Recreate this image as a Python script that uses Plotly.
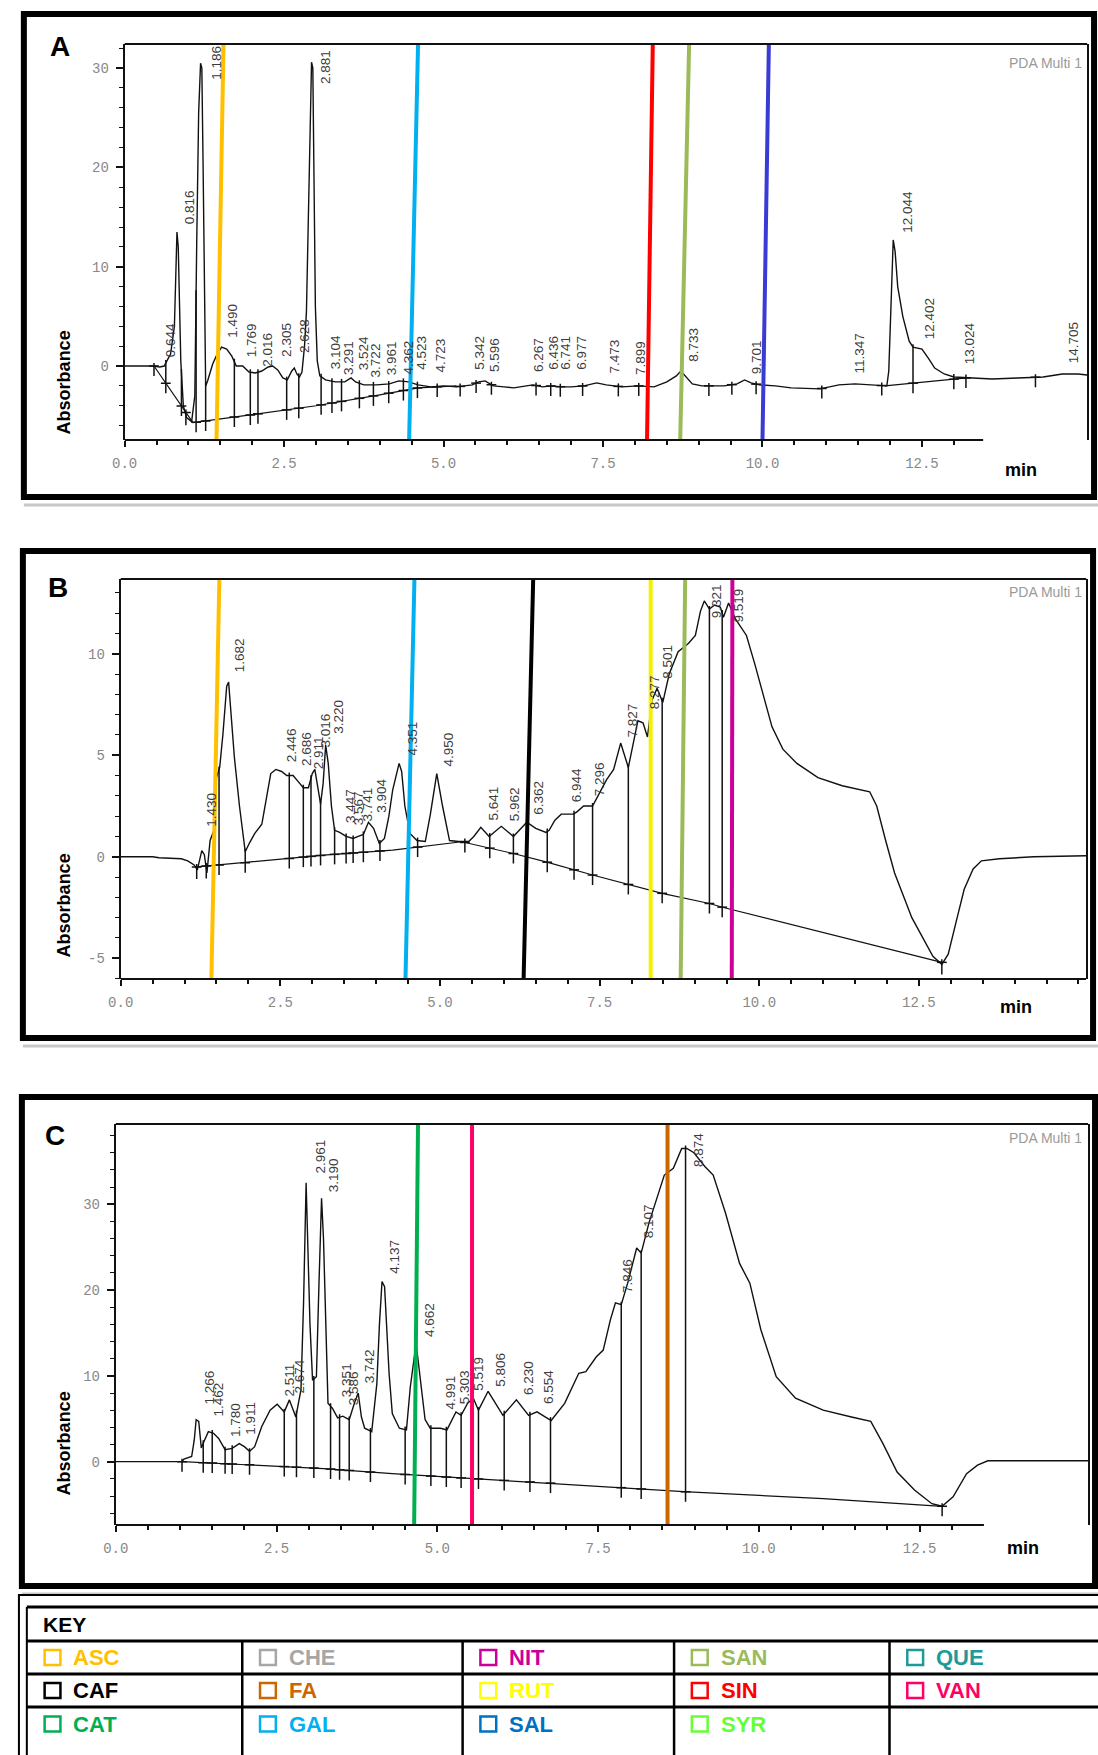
import numpy as np
import plotly.graph_objects as go

W, H = 1098, 1755

# ======================= DATA =======================
# ---- Panel A : chromatogram (time [min], absorbance) ----
a_curve = [(0.00, 0.0), (0.45, 0.0), (0.55, -0.1), (0.62, 0.0), (0.66, 0.5), (0.72, 1.2), (0.78, 4.0),
           (0.80, 9.0), (0.82, 13.5), (0.84, 12.0), (0.86, 6.5), (0.88, 0.5), (0.92, -4.0), (0.97, -5.2),
           (1.05, -5.6), (1.10, -3.0), (1.13, 12.5), (1.16, 25.5), (1.19, 30.5), (1.21, 30.0), (1.23, 20.0),
           (1.25, 8.0), (1.27, -2.0), (1.30, -1.5), (1.38, 0.2), (1.45, 1.2), (1.52, 1.9), (1.60, 1.7),
           (1.68, 1.0), (1.75, 0.0), (1.85, 0.0), (1.95, -0.6), (2.05, -0.7), (2.15, -0.5), (2.25, -0.1),
           (2.32, 0.0), (2.40, -0.4), (2.48, -1.2), (2.55, -1.4), (2.62, -0.5), (2.66, -0.2), (2.70, -0.8),
           (2.74, -1.1), (2.78, -0.6), (2.82, 2.0), (2.85, 5.5), (2.88, 14.5), (2.91, 25.0), (2.93, 30.6),
           (2.95, 30.0), (2.97, 20.5), (2.99, 6.0), (3.02, 0.5), (3.06, -1.0), (3.15, -1.4), (3.30, -1.6),
           (3.45, -1.6), (3.55, -1.2), (3.62, -1.6), (3.75, -1.9), (3.95, -1.9), (4.15, -1.8), (4.30, -1.5),
           (4.45, -1.6), (4.60, -1.9), (4.80, -2.1), (5.00, -2.0), (5.20, -2.1), (5.45, -1.9), (5.55, -1.6),
           (5.65, -1.5), (5.78, -2.0), (5.95, -2.1), (6.10, -2.2), (6.30, -2.0), (6.40, -1.9), (6.55, -2.1),
           (6.70, -2.0), (6.85, -2.1), (7.00, -2.1), (7.20, -2.0), (7.40, -1.7), (7.55, -1.9), (7.80, -2.1),
           (8.05, -2.0), (8.30, -2.1), (8.50, -1.6), (8.65, -1.0), (8.72, -0.5), (8.78, -0.9), (8.90, -1.8),
           (9.05, -2.0), (9.40, -2.0), (9.60, -1.8), (9.72, -1.4), (9.82, -1.7), (9.95, -1.9), (10.20, -2.0),
           (10.45, -2.2), (10.90, -2.3), (11.20, -1.9), (11.45, -1.8), (11.70, -1.9), (11.95, -2.0),
           (11.98, -0.5), (12.02, 8.0), (12.05, 12.7), (12.08, 11.5), (12.12, 8.0), (12.20, 5.0), (12.30, 2.5),
           (12.36, 1.9), (12.50, 1.7), (12.60, 0.8), (12.70, -0.2), (12.85, -0.8), (13.00, -1.1), (13.30, -1.2),
           (13.60, -1.3), (14.00, -1.2), (14.40, -1.1), (14.70, -0.8), (14.95, -0.8), (15.09, -0.9)]
a_baseline = [(0.46, 0.0), (1.07, -5.7), (2.0, -4.9), (3.0, -4.0), (4.0, -2.9), (4.6, -2.2), (5.2, -2.0),
              None, (11.92, -2.0), (13.2, -1.2)]
a_drops = [0.46, 0.645, 0.89, 0.96, 1.12, 1.27, 1.72, 1.97, 2.09, 2.54, 2.73, 3.08, 3.25, 3.40, 3.68, 3.90,
           4.14, 4.37, 4.59, 4.90, 5.26, 5.51, 5.75, 6.45, 6.68, 6.83, 7.18, 7.74, 8.06, 9.16, 9.52, 9.90,
           10.93, 11.87, 12.36, 13.0, 13.19, 14.28]
a_peak_text = ["0.644", "0.816", "1.186", "1.490", "1.769", "2.016", "2.305", "2.628", "2.881", "3.104",
               "3.291", "3.524", "3.722", "3.961", "4.362", "4.523", "4.723", "5.342", "5.596", "6.267",
               "6.436", "6.741", "6.977", "7.473", "7.899", "8.733", "9.701", "11.347", "12.044", "12.402",
               "13.024", "14.705"]
a_peak_x = [0.71, 1.01, 1.44, 1.69, 1.98, 2.24, 2.54, 2.81, 3.14, 3.30, 3.50, 3.74, 3.93, 4.18, 4.45, 4.64,
            4.95, 5.55, 5.79, 6.48, 6.71, 6.90, 7.15, 7.68, 8.08, 8.92, 9.90, 11.52, 12.26, 12.61, 13.24, 14.87]
a_peak_y = [2.6, 16.0, 30.5, 4.6, 2.6, 1.6, 2.6, 3.0, 30.1, 1.4, 0.8, 1.3, 0.6, 0.8, 0.9, 1.3, 1.1, 1.3,
            1.1, 1.1, 1.3, 1.3, 1.3, 0.9, 0.8, 2.1, 0.9, 1.3, 15.5, 4.8, 2.3, 2.3]
a_std = ["ASC", "GAL", "SIN", "SAN", "SAL"]
a_std_bottom = [1.44, 4.46, 8.19, 8.71, 10.00]
a_std_top = [1.55, 4.60, 8.28, 8.85, 10.10]

# ---- Panel B ----
b_curve = [(0.0, 0.0), (0.50, 0.0), (0.60, -0.05), (0.95, -0.1), (1.05, -0.2), (1.15, -0.4), (1.20, -0.65),
           (1.27, 0.3), (1.31, 0.1), (1.35, -0.8), (1.40, 0.8), (1.46, 1.3), (1.50, 3.9), (1.55, 4.4),
           (1.60, 6.0), (1.66, 8.4), (1.69, 8.6), (1.72, 7.5), (1.78, 4.9), (1.86, 2.5), (1.95, 0.25),
           (2.02, 0.7), (2.10, 1.15), (2.21, 1.6), (2.30, 3.2), (2.35, 4.1), (2.43, 4.3), (2.52, 4.2),
           (2.60, 4.0), (2.70, 4.0), (2.78, 3.7), (2.86, 3.4), (2.94, 3.4), (3.00, 4.1), (3.04, 4.3),
           (3.08, 3.6), (3.13, 2.6), (3.17, 3.6), (3.21, 5.5), (3.25, 4.6), (3.30, 2.5), (3.35, 1.3),
           (3.43, 1.2), (3.53, 1.0), (3.64, 0.9), (3.72, 1.0), (3.80, 1.1), (3.88, 1.7), (3.96, 1.4),
           (4.05, 0.65), (4.13, 0.9), (4.20, 2.0), (4.26, 3.3), (4.36, 4.6), (4.40, 4.2), (4.45, 2.5),
           (4.53, 1.15), (4.64, 0.8), (4.77, 0.75), (4.85, 2.1), (4.95, 4.1), (5.04, 2.5), (5.15, 0.8),
           (5.29, 0.75), (5.45, 0.75), (5.53, 1.0), (5.64, 1.45), (5.77, 1.0), (5.96, 1.5), (6.15, 1.0),
           (6.36, 1.7), (6.50, 1.4), (6.66, 1.2), (6.71, 1.3), (6.80, 1.8), (6.90, 2.1), (7.09, 2.1),
           (7.14, 2.2), (7.25, 2.5), (7.39, 2.5), (7.47, 3.0), (7.61, 3.8), (7.72, 4.3), (7.83, 5.6),
           (7.95, 4.4), (8.02, 5.4), (8.10, 6.7), (8.18, 6.6), (8.25, 5.9), (8.32, 7.7), (8.40, 8.3),
           (8.49, 7.6), (8.59, 9.0), (8.73, 10.1), (8.89, 10.5), (9.00, 10.9), (9.08, 12.1), (9.14, 12.6),
           (9.22, 12.2), (9.30, 12.4), (9.39, 12.3), (9.44, 11.8), (9.52, 12.5), (9.63, 11.7), (9.80, 10.9),
           (9.93, 9.5), (10.07, 7.9), (10.20, 6.4), (10.37, 5.3), (10.59, 4.6), (10.92, 3.9), (11.30, 3.5),
           (11.73, 3.2), (11.84, 2.5), (11.98, 0.8), (12.12, -0.8), (12.39, -3.0), (12.72, -4.9),
           (12.86, -5.3), (12.96, -4.8), (13.10, -3.0), (13.21, -1.6), (13.35, -0.6), (13.48, -0.2),
           (13.76, -0.1), (14.30, 0.0), (15.12, 0.05)]
b_baseline = [(1.19, -0.5), (2.1, -0.25), (3.18, 0.08), (4.26, 0.33), (5.34, 0.74), (6.15, 0.16),
              (6.66, -0.25), (7.39, -0.9), (8.48, -1.8), (9.22, -2.3), (9.44, -2.5), (12.86, -5.2)]
b_drops = [1.19, 1.34, 1.54, 1.95, 2.64, 2.86, 2.98, 3.13, 3.35, 3.53, 3.64, 3.80, 4.06, 4.65, 5.39, 5.78,
           6.15, 6.68, 7.10, 7.39, 7.95, 8.48, 9.22, 9.42, 12.86]
b_peak_text = ["1.430", "1.682", "2.446", "2.686", "2.911", "3.016", "3.220", "3.447", "3.567", "3.741",
               "3.904", "4.351", "4.950", "5.641", "5.962", "6.362", "6.944", "7.296", "7.827", "8.277",
               "8.501", "9.321", "9.519"]
b_peak_x = [1.41, 1.86, 2.67, 2.90, 3.09, 3.21, 3.42, 3.59, 3.72, 3.88, 4.09, 4.57, 5.13, 5.84, 6.18, 6.55,
            7.14, 7.50, 8.02, 8.35, 8.57, 9.33, 9.69]
b_peak_y = [2.3, 9.95, 5.5, 5.3, 5.1, 6.2, 6.9, 2.5, 2.4, 2.6, 3.0, 5.8, 5.3, 2.6, 2.6, 2.9, 3.5, 3.8, 6.7,
            8.1, 9.6, 12.6, 12.4]
b_std = ["ASC", "GAL", "CAF", "RUT", "SAN", "NIT"]
b_std_bottom = [1.42, 4.46, 6.31, 8.30, 8.77, 9.57]
b_std_top = [1.545, 4.60, 6.46, 8.30, 8.84, 9.58]

# ---- Panel C ----
c_curve = [(0.0, 0.0), (1.03, 0.0), (1.06, 0.3), (1.18, 0.6), (1.22, 2.5), (1.25, 4.9), (1.29, 4.7),
           (1.33, 1.6), (1.38, 2.5), (1.44, 3.5), (1.52, 3.3), (1.60, 2.7), (1.70, 1.4), (1.81, 1.55),
           (1.92, 2.1), (2.00, 1.75), (2.08, 1.2), (2.16, 1.75), (2.27, 4.1), (2.40, 6.0), (2.51, 6.7),
           (2.62, 5.8), (2.70, 7.2), (2.80, 5.2), (2.88, 8.4), (2.92, 18.5), (2.96, 32.5), (2.99, 24.0),
           (3.02, 16.0), (3.06, 9.5), (3.12, 9.9), (3.16, 20.8), (3.20, 30.7), (3.23, 26.0), (3.26, 16.9),
           (3.30, 6.8), (3.37, 6.2), (3.45, 5.1), (3.53, 5.3), (3.63, 4.9), (3.71, 6.8), (3.77, 8.0),
           (3.82, 5.2), (3.87, 3.9), (3.98, 3.5), (4.06, 9.1), (4.10, 16.0), (4.14, 21.0), (4.18, 20.4),
           (4.22, 15.0), (4.25, 10.3), (4.30, 5.6), (4.41, 3.9), (4.52, 3.7), (4.58, 8.7), (4.67, 13.8),
           (4.73, 9.9), (4.81, 4.9), (4.89, 3.9), (5.05, 3.9), (5.15, 3.7), (5.29, 5.8), (5.37, 5.4),
           (5.47, 6.8), (5.56, 7.4), (5.64, 6.0), (5.79, 8.2), (6.02, 5.4), (6.23, 7.2), (6.42, 5.4),
           (6.55, 5.8), (6.77, 4.8), (6.98, 6.8), (7.20, 10.3), (7.31, 10.5), (7.47, 12.2), (7.58, 13.0),
           (7.69, 16.5), (7.77, 18.5), (7.86, 18.3), (7.96, 20.8), (8.10, 24.9), (8.17, 24.3), (8.29, 27.8),
           (8.53, 33.4), (8.67, 34.2), (8.80, 36.5), (8.88, 36.5), (8.99, 36.0), (9.16, 34.4), (9.29, 33.4),
           (9.48, 29.0), (9.70, 23.1), (9.86, 20.8), (10.03, 15.4), (10.27, 9.9), (10.57, 7.4), (11.00, 6.0),
           (11.44, 5.2), (11.74, 4.7), (11.93, 2.1), (12.15, -1.2), (12.42, -3.3), (12.69, -4.9),
           (12.85, -5.2), (13.02, -4.1), (13.23, -1.4), (13.40, -0.4), (13.56, 0.1), (15.12, 0.1)]
c_baseline = [(1.03, 0.0), (2.16, -0.4), (3.23, -0.8), (4.30, -1.4), (5.37, -1.9), (6.77, -2.5),
              (8.83, -3.5), (11.0, -4.3), (12.85, -5.2)]
c_drops = [1.03, 1.36, 1.50, 1.70, 1.81, 2.08, 2.62, 2.81, 3.08, 3.34, 3.48, 3.63, 3.96, 4.50, 4.90, 5.14,
           5.37, 5.64, 6.04, 6.44, 6.76, 7.86, 8.17, 8.86, 12.85]
c_peak_text = ["1.266", "1.462", "1.780", "1.911", "2.511", "2.674", "2.961", "3.190", "3.351", "3.586",
               "3.742", "4.137", "4.662", "4.991", "5.303", "5.519", "5.806", "6.230", "6.554", "7.846",
               "8.107", "8.874"]
c_peak_x = [1.46, 1.60, 1.86, 2.10, 2.70, 2.86, 3.18, 3.38, 3.58, 3.71, 3.95, 4.33, 4.87, 5.19, 5.42, 5.64,
            5.99, 6.42, 6.72, 7.96, 8.29, 9.05]
c_peak_y = [8.6, 7.2, 4.9, 5.1, 9.5, 9.9, 35.6, 33.4, 9.5, 8.6, 11.1, 23.9, 16.5, 8.0, 8.7, 10.3, 10.7, 9.7,
            8.7, 21.6, 28.0, 36.3]
c_std = ["CAT", "VAN", "FA"]
c_std_bottom = [4.64, 5.54, 8.58]
c_std_top = [4.70, 5.54, 8.58]

# ---- x / y ticks ----
x_tick_vals = [0.0, 2.5, 5.0, 7.5, 10.0, 12.5]
x_tick_text = ["0.0", "2.5", "5.0", "7.5", "10.0", "12.5"]

# ---- KEY table ----
key_rows = [["ASC", "CHE", "NIT", "SAN", "QUE"],
            ["CAF", "FA", "RUT", "SIN", "VAN"],
            ["CAT", "GAL", "SAL", "SYR", ""]]
std_colors = {"ASC": "#FFC000", "CHE": "#A6A6A6", "NIT": "#CC0099", "SAN": "#9BBB59", "QUE": "#1E9A9A",
              "CAF": "#000000", "FA": "#CC6600", "RUT": "#FFFF00", "SIN": "#FF0000", "VAN": "#FF0066",
              "CAT": "#00B050", "GAL": "#00B0F0", "SAL": "#0070C0", "SYR": "#66FF33"}
line_colors = dict(std_colors)
line_colors["SAL"] = "#3A3AD4"
line_colors["RUT"] = "#F2F200"

# ======================= LAYOUT CONFIG =======================
BOLD = "Liberation Sans, Arial, sans-serif"
MONO = "Liberation Mono, DejaVu Sans Mono, monospace"
SANS = "Liberation Sans, Arial, sans-serif"

panels = [
    dict(letter="A", curve=a_curve, base=a_baseline, drops=a_drops, ptxt=a_peak_text, px=a_peak_x,
         py=a_peak_y, std=a_std, sb=a_std_bottom, st=a_std_top,
         x0=113, x1=1087, yt=44, yb=440, yr=[-7.45, 32.43], xr=[0, 15.09],
         yticks=[0, 10, 20, 30], yminor=list(range(-6, 33, 2)), xline_end=13.46, xminor_end=13.0,
         frame=(11, 14, 1094, 497), letter_xy=(48, 47), abs_xy=(52, 382), min_xy=(1020, 470), pda_y=63),
    dict(letter="B", curve=b_curve, base=b_baseline, drops=b_drops, ptxt=b_peak_text, px=b_peak_x,
         py=b_peak_y, std=b_std, sb=b_std_bottom, st=b_std_top,
         x0=109, x1=1086, yt=579, yb=979, yr=[-6.02, 13.68], xr=[0, 15.12],
         yticks=[-5, 0, 5, 10], yminor=list(range(-6, 14, 1)), xline_end=15.12, xminor_end=15.0,
         frame=(10, 551, 1093, 1038), letter_xy=(46, 588), abs_xy=(52, 905), min_xy=(1015, 1007), pda_y=592),
    dict(letter="C", curve=c_curve, base=c_baseline, drops=c_drops, ptxt=c_peak_text, px=c_peak_x,
         py=c_peak_y, std=c_std, sb=c_std_bottom, st=c_std_top,
         x0=104, x1=1088, yt=1124, yb=1525, yr=[-7.38, 39.35], xr=[0, 15.12],
         yticks=[0, 10, 20, 30], yminor=list(range(-6, 40, 2)), xline_end=13.5, xminor_end=13.0,
         frame=(9, 1097, 1095, 1586), letter_xy=(43, 1135), abs_xy=(52, 1443), min_xy=(1022, 1548), pda_y=1138),
]


def pxx(x):
    return x / W


def pxy(y):
    return 1 - y / H


def split_segments(points):
    segs, cur = [], []
    for p in points:
        if p is None:
            if cur:
                segs.append(cur)
            cur = []
        else:
            cur.append(p)
    if cur:
        segs.append(cur)
    return segs


fig = go.Figure()
shapes, annotations = [], []
layout_axes = {}

for i, p in enumerate(panels):
    n = "" if i == 0 else str(i + 1)
    xref, yref = "x" + n, "y" + n
    ct = np.array([q[0] for q in p["curve"]])
    cy = np.array([q[1] for q in p["curve"]])
    segs = split_segments(p["base"])
    upp = (p["yb"] - p["yt"]) / (p["yr"][1] - p["yr"][0])  # px per unit

    def base_at(t, segs=segs):
        for s in segs:
            st = [q[0] for q in s]
            sy = [q[1] for q in s]
            if st[0] - 1e-9 <= t <= st[-1] + 1e-9:
                return float(np.interp(t, st, sy))
        return None

    # curve
    fig.add_trace(go.Scatter(x=ct, y=cy, mode="lines", line=dict(color="#111111", width=1.4),
                             xaxis=xref, yaxis=yref, hoverinfo="skip", showlegend=False))
    # baseline
    bx, by = [], []
    for s in segs:
        bx += [q[0] for q in s] + [None]
        by += [q[1] for q in s] + [None]
    fig.add_trace(go.Scatter(x=bx, y=by, mode="lines", line=dict(color="#111111", width=1.2),
                             xaxis=xref, yaxis=yref, hoverinfo="skip", showlegend=False, connectgaps=False))
    # drop lines
    dx, dy, mx, my = [], [], [], []
    for t in p["drops"]:
        c = float(np.interp(t, ct, cy))
        b = base_at(t)
        ref = c if b is None else b
        top = max(c, ref) + 3 / upp
        bot = min(c, ref) - 10 / upp
        dx += [t, t, None]
        dy += [top, bot, None]
        mx.append(t)
        my.append(ref)
    fig.add_trace(go.Scatter(x=dx, y=dy, mode="lines", line=dict(color="#111111", width=1.5),
                             xaxis=xref, yaxis=yref, hoverinfo="skip", showlegend=False))
    fig.add_trace(go.Scatter(x=mx, y=my, mode="markers",
                             marker=dict(symbol="line-ew", size=7, line=dict(color="#111111", width=1.5)),
                             xaxis=xref, yaxis=yref, hoverinfo="skip", showlegend=False))
    # peak labels
    for txt, tx, ty in zip(p["ptxt"], p["px"], p["py"]):
        annotations.append(dict(x=tx, y=ty, xref=xref, yref=yref, text=txt, textangle=-90, showarrow=False,
                                xanchor="center", yanchor="middle",
                                font=dict(family=SANS, size=13.5, color="#3c3c3c")))
    # standard marker lines
    for name, t0, t1 in zip(p["std"], p["sb"], p["st"]):
        shapes.append(dict(type="line", xref=xref, yref=yref + " domain", x0=t0, y0=0, x1=t1, y1=1,
                           line=dict(color=line_colors[name], width=4), layer="above"))
    # axis lines (top + bottom)
    shapes.append(dict(type="line", xref=xref + " domain", yref=yref + " domain", x0=0, x1=1, y0=1, y1=1,
                       line=dict(color="#111111", width=2)))
    shapes.append(dict(type="line", xref=xref, yref=yref + " domain", x0=0, x1=p["xline_end"], y0=0, y1=0,
                       line=dict(color="#111111", width=2)))
    # axes
    minor_x = [round(v * 0.5, 2) for v in range(0, int(p["xminor_end"] * 2) + 1)]
    minor_x = [v for v in minor_x if v not in x_tick_vals]
    layout_axes["xaxis" + n] = dict(
        domain=[pxx(p["x0"]), pxx(p["x1"])], range=p["xr"], anchor=yref, showline=False, showgrid=False,
        zeroline=False, ticks="outside", ticklen=6, tickwidth=1.5, tickcolor="#111111",
        tickmode="array", tickvals=x_tick_vals, ticktext=x_tick_text, ticklabelstandoff=4,
        tickfont=dict(family=MONO, size=14, color="#888888"),
        minor=dict(tickmode="array", tickvals=minor_x, ticks="outside", ticklen=4, tickwidth=1.5,
                   tickcolor="#111111", showgrid=False))
    layout_axes["yaxis" + n] = dict(
        domain=[pxy(p["yb"]), pxy(p["yt"])], range=p["yr"], anchor=xref, showline=True, linewidth=2,
        linecolor="#111111", mirror=True, showgrid=False, zeroline=False, ticks="outside", ticklen=7,
        tickwidth=1.5, tickcolor="#111111", tickmode="array", tickvals=p["yticks"], ticklabelstandoff=4,
        ticktext=[str(v) for v in p["yticks"]], tickfont=dict(family=MONO, size=14, color="#888888"),
        minor=dict(tickmode="array", tickvals=[v for v in p["yminor"] if v not in p["yticks"]],
                   ticks="outside", ticklen=4, tickwidth=1.2, tickcolor="#111111", showgrid=False))
    # frame
    fx0, fy0, fx1, fy1 = p["frame"]
    shapes.append(dict(type="rect", xref="paper", yref="paper", x0=pxx(fx0), x1=pxx(fx1), y0=pxy(fy0),
                       y1=pxy(fy1), line=dict(color="#000000", width=6)))
    shapes.append(dict(type="line", xref="paper", yref="paper", x0=pxx(fx0), x1=1, y0=pxy(fy1 + 8),
                       y1=pxy(fy1 + 8), line=dict(color="#C8C8C8", width=3)))
    # texts
    lx, ly = p["letter_xy"]
    annotations.append(dict(x=pxx(lx), y=pxy(ly), xref="paper", yref="paper", text="<b>%s</b>" % p["letter"],
                            showarrow=False, xanchor="center", yanchor="middle",
                            font=dict(family=BOLD, size=28, color="#000000")))
    ax_, ay_ = p["abs_xy"]
    annotations.append(dict(x=pxx(ax_), y=pxy(ay_), xref="paper", yref="paper", text="<b>Absorbance</b>",
                            textangle=-90, showarrow=False, xanchor="center", yanchor="middle",
                            font=dict(family=SANS, size=18, color="#000000")))
    mx_, my_ = p["min_xy"]
    annotations.append(dict(x=pxx(mx_), y=pxy(my_), xref="paper", yref="paper", text="<b>min</b>",
                            showarrow=False, xanchor="center", yanchor="middle",
                            font=dict(family=SANS, size=18, color="#000000")))
    annotations.append(dict(x=pxx(1084), y=pxy(p["pda_y"]), xref="paper", yref="paper", text="PDA Multi 1",
                            showarrow=False, xanchor="right", yanchor="middle",
                            font=dict(family=SANS, size=14, color="#9A9A9A")))

# ======================= KEY TABLE =======================
tbl_left, tbl_top = 14, 1607
row_lines = [1641, 1674, 1707]
col_x = [14, 232, 455, 669, 887]
row_centers = [1657.5, 1690.5, 1724]
shapes.append(dict(type="rect", xref="paper", yref="paper", x0=pxx(6), x1=pxx(1110), y0=pxy(1595),
                   y1=pxy(1762), line=dict(color="#000000", width=2)))
shapes.append(dict(type="line", xref="paper", yref="paper", x0=pxx(tbl_left), x1=1, y0=pxy(tbl_top),
                   y1=pxy(tbl_top), line=dict(color="#000000", width=3)))
shapes.append(dict(type="line", xref="paper", yref="paper", x0=pxx(tbl_left), x1=pxx(tbl_left),
                   y0=pxy(tbl_top), y1=0, line=dict(color="#000000", width=2)))
for ry in row_lines:
    shapes.append(dict(type="line", xref="paper", yref="paper", x0=pxx(tbl_left), x1=1, y0=pxy(ry),
                       y1=pxy(ry), line=dict(color="#000000", width=3)))
for cx in col_x[1:]:
    shapes.append(dict(type="line", xref="paper", yref="paper", x0=pxx(cx), x1=pxx(cx), y0=pxy(row_lines[0]),
                       y1=0, line=dict(color="#000000", width=2.5)))
annotations.append(dict(x=pxx(28), y=pxy(1624), xref="paper", yref="paper", text="<b>KEY</b>", showarrow=False,
                        xanchor="left", yanchor="middle", font=dict(family=BOLD, size=21, color="#000000")))
for r, row in enumerate(key_rows):
    for c, name in enumerate(row):
        if not name:
            continue
        col = std_colors[name]
        cyy = row_centers[r]
        shapes.append(dict(type="rect", xref="paper", yref="paper", x0=pxx(col_x[c] + 18),
                           x1=pxx(col_x[c] + 34), y0=pxy(cyy - 7.5), y1=pxy(cyy + 7.5),
                           line=dict(color=col, width=2.5)))
        annotations.append(dict(x=pxx(col_x[c] + 45), y=pxy(cyy), xref="paper", yref="paper",
                                text="<b>%s</b>" % name, showarrow=False, xanchor="left", yanchor="middle",
                                font=dict(family=BOLD, size=22, color=col)))

fig.update_layout(width=W, height=H, margin=dict(l=0, r=0, t=0, b=0), paper_bgcolor="white",
                  plot_bgcolor="white", showlegend=False, shapes=shapes, annotations=annotations,
                  **layout_axes)
fig.write_html("out.html")
